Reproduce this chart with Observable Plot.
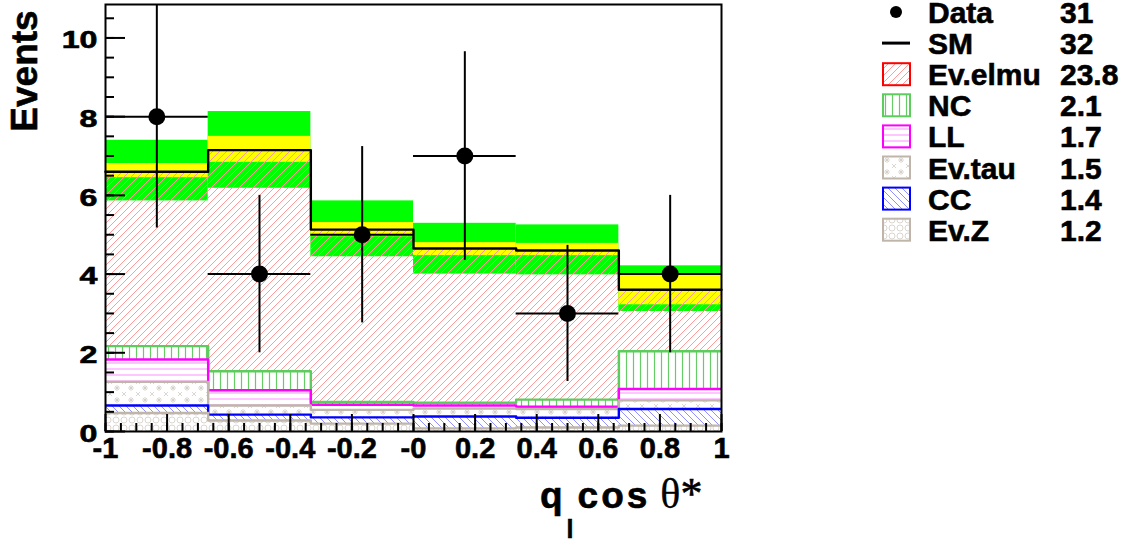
<!DOCTYPE html>
<html><head><meta charset="utf-8">
<script src="https://cdn.jsdelivr.net/npm/d3@7"></script>
<script src="https://cdn.jsdelivr.net/npm/@observablehq/plot@0.6"></script>
<style>body{margin:0;background:#fff} svg text.heavy, svg g[aria-label$="tick label"] text{stroke:#000;stroke-width:0.6px}</style>
</head><body><div id="chart"></div>
<script>
// ---- data ----
const binEdges = [-1, -2/3, -1/3, 0, 1/3, 2/3, 1];
const dataCounts = [8, 4, 5, 7, 3, 4];
const dataErrors = [2.83, 2.0, 2.24, 2.65, 1.73, 2.0];
const smTotal = [6.60, 7.15, 5.13, 4.65, 4.60, 3.60];
const bandInnerLo = [6.45, 6.84, 4.95, 4.47, 4.47, 3.22];
const bandInnerHi = [6.81, 7.50, 5.31, 4.80, 4.78, 3.98];
const bandOuterLo = [5.86, 6.18, 4.44, 4.00, 3.98, 3.05];
const bandOuterHi = [7.40, 8.13, 5.86, 5.29, 5.25, 4.21];
// stacked components (bottom to top)
const evZ    = [0.47, 0.28, 0.20, 0.08, 0.10, 0.15];
const cc     = [0.19, 0.15, 0.16, 0.30, 0.25, 0.42];
const evTau  = [0.60, 0.23, 0.19, 0.20, 0.22, 0.22];
const ll     = [0.57, 0.39, 0.13, 0.08, 0.06, 0.29];
const nc     = [0.34, 0.48, 0.07, 0.07, 0.18, 0.96];
const evElmu = [4.43, 5.62, 4.38, 3.92, 3.79, 1.56];
const legendLabels = ["Data", "SM", "Ev.elmu", "NC", "LL", "Ev.tau", "CC", "Ev.Z"];
const legendValues = ["31", "32", "23.8", "2.1", "1.7", "1.5", "1.4", "1.2"];
const xTickValues = [-1, -0.8, -0.6, -0.4, -0.2, 0, 0.2, 0.4, 0.6, 0.8, 1];
const xTickLabels = ["-1", "-0.8", "-0.6", "-0.4", "-0.2", "-0", "0.2", "0.4", "0.6", "0.8", "1"];
const yTickValues = [0, 2, 4, 6, 8, 10];
const yTickLabels = ["0", "2", "4", "6", "8", "10"];
const yMax = 10.85;

// ---- styling ----
const W = 1127, H = 545, ML = 105, MR = 406, MT = 4, MB = 114;
const FW = W - ML - MR, FH = H - MT - MB;
const FONT = "'Liberation Sans', Arial, Helvetica, sans-serif";
const components = [
  {name: "Ev.Z",    values: evZ,    line: "#bfb5ab", pat: "pat-z"},
  {name: "CC",      values: cc,     line: "#0000ff", pat: "pat-cc"},
  {name: "Ev.tau",  values: evTau,  line: "#bfb5ab", pat: "pat-tau"},
  {name: "LL",      values: ll,     line: "#ff00ff", pat: "pat-ll"},
  {name: "NC",      values: nc,     line: "#5ccc5c", pat: "pat-nc"},
  {name: "Ev.elmu", values: evElmu, line: "#ff0000", pat: "pat-elmu"}
];

// ---- tables ----
const bins = dataCounts.map((v, i) => ({
  x1: binEdges[i], x2: binEdges[i + 1], xc: (binEdges[i] + binEdges[i + 1]) / 2,
  n: v, err: dataErrors[i], sm: smTotal[i],
  inLo: bandInnerLo[i], inHi: bandInnerHi[i], outLo: bandOuterLo[i], outHi: bandOuterHi[i]
}));
const cum = new Array(bins.length).fill(0);
const stackRows = components.map(c => {
  const rows = c.values.map((v, i) => {
    const r = {name: c.name, x1: binEdges[i], x2: binEdges[i + 1], y1: cum[i], y2: cum[i] + v};
    cum[i] += v;
    return r;
  });
  return {c, rows};
});
const stepPoints = (rows, key) => rows.flatMap(r => [{x: r.x1, y: r[key]}, {x: r.x2, y: r[key]}]);

const xMinor = d3.range(-1, 1.0001, 0.05);
const yMinor = d3.range(0, yMax, 0.5);

const marks = [
  Plot.rect(bins, {x1: "x1", x2: "x2", y1: "outLo", y2: "outHi", fill: "#00ff00"}),
  Plot.rect(bins, {x1: "x1", x2: "x2", y1: "inLo", y2: "inHi", fill: "#ffff00"}),
  ...stackRows.map(({c, rows}) => Plot.rect(rows, {x1: "x1", x2: "x2", y1: "y1", y2: "y2", fill: `url(#${c.pat})`})),
  ...stackRows.slice(0, 5).reverse().map(({c, rows}) =>
    Plot.line(stepPoints(rows, "y2"), {x: "x", y: "y", stroke: c.line, strokeWidth: 2.4, clip: true})),
  Plot.line(stepPoints(bins, "sm"), {x: "x", y: "y", stroke: "black", strokeWidth: 2.4}),
  // ticks inside frame
  Plot.tickY(yMinor, {y: d => d, insetRight: FW - 9, stroke: "black", strokeWidth: 2}),
  Plot.tickY(yTickValues, {y: d => d, insetRight: FW - 20, stroke: "black", strokeWidth: 2}),
  Plot.tickX(xMinor, {x: d => d, insetTop: FH - 8, stroke: "black", strokeWidth: 2}),
  Plot.tickX(xTickValues, {x: d => d, insetTop: FH - 17, stroke: "black", strokeWidth: 2}),
  // data
  Plot.ruleX(bins, {x: "xc", y1: d => d.n - d.err, y2: d => d.n + d.err, stroke: "black", strokeWidth: 2, clip: true}),
  Plot.ruleY(bins, {y: "n", x1: "x1", x2: "x2", stroke: "black", strokeWidth: 2}),
  Plot.dot(bins, {x: "xc", y: "n", r: 8.5, fill: "black", stroke: "none"}),
  Plot.frame({stroke: "black", strokeWidth: 2}),
  Plot.axisX(xTickValues, {tickSize: 0, tickPadding: 6, fontSize: 29, fontWeight: "bold",
    tickFormat: d => xTickLabels[xTickValues.indexOf(d)], label: null}),
  Plot.axisY(yTickValues, {tickSize: 0, tickPadding: 8, fontSize: 23, fontWeight: "bold", dy: 3,
    tickFormat: d => yTickLabels[yTickValues.indexOf(d)], label: null})
];

const svg = Plot.plot({
  width: W, height: H,
  marginLeft: ML, marginRight: MR, marginTop: MT, marginBottom: MB,
  x: {domain: [-1, 1]},
  y: {domain: [0, yMax]},
  style: {fontFamily: FONT, background: "white", color: "black"},
  marks
});

const s = d3.select(svg);
// patterns
const defs = s.insert("defs", ":first-child");
function pattern(id, w, h, draw, bg = "white") {
  const p = defs.append("pattern").attr("id", id).attr("patternUnits", "userSpaceOnUse")
    .attr("width", w).attr("height", h);
  if (bg) p.append("rect").attr("width", w).attr("height", h).attr("fill", bg);
  draw(p);
}
pattern("pat-elmu", 7, 7, p => p.append("path").attr("d", "M0,7L7,0M-1,1L1,-1M6,8L8,6")
  .attr("stroke", "#ff9a9a").attr("stroke-width", 1).attr("fill", "none"), null);
pattern("pat-nc", 7, 10, p => p.append("path").attr("d", "M3.5,0V10")
  .attr("stroke", "#66cc66").attr("stroke-width", 1.2));
pattern("pat-ll", 10, 6, p => p.append("path").attr("d", "M0,3H10")
  .attr("stroke", "#ff90ff").attr("stroke-width", 1));
pattern("pat-cc", 7, 7, p => p.append("path").attr("d", "M0,0L7,7M-1,6L1,8M6,-1L8,1")
  .attr("stroke", "#9090ff").attr("stroke-width", 1).attr("fill", "none"));
pattern("pat-tau", 14, 12, p => p.append("path")
  .attr("d", "M3,2L7,6M7,2L3,6M5,1V7M2,4H8M10,8L14,12M14,8L10,12")
  .attr("stroke", "#d2cbc4").attr("stroke-width", 0.8).attr("fill", "none"));
pattern("pat-z", 8, 8, p => p.append("circle").attr("cx", 4).attr("cy", 4).attr("r", 3)
  .attr("stroke", "#d2cbc4").attr("stroke-width", 0.8).attr("fill", "none"));

// stretch y tick labels horizontally like the reference
s.selectAll('g[aria-label="y-axis tick label"] text').attr("transform", function() {
  return (this.getAttribute("transform") || "") + " scale(1.4,1)";
});

// axis titles
s.append("text").attr("class", "heavy").attr("transform", "translate(37,71) rotate(-90)").attr("text-anchor", "middle")
  .attr("font-family", FONT).attr("font-weight", "bold").attr("font-size", 37).text("Events");
const xt = s.append("text").attr("class", "heavy").attr("x", 540).attr("y", 508).attr("text-anchor", "start")
  .attr("font-family", FONT).attr("font-weight", "bold").attr("font-size", 37);
xt.append("tspan").text("q");
xt.append("tspan").attr("font-size", 25).attr("dy", 30).attr("dx", 4).text("l");
xt.append("tspan").attr("dy", -30).attr("dx", 4).attr("letter-spacing", 3).text("cos");
xt.append("tspan").attr("dx", 10).attr("font-size", 42).attr("stroke-width", 0.3)
  .attr("font-family", "'Liberation Serif', serif").attr("font-weight", "normal").text("θ");
xt.append("tspan").attr("font-size", 44).attr("font-weight", "normal").attr("stroke-width", 0.6)
  .attr("font-family", "'Liberation Serif', serif").text("*");

// legend
const leg = s.append("g").attr("font-family", FONT).attr("font-weight", "bold").attr("font-size", 30)
  .attr("text-anchor", "start");
const legendStyle = [
  {type: "dot"}, {type: "line"},
  ...components.slice().reverse().map(c => ({type: "box", pat: c.pat, line: c.line}))
];
legendLabels.forEach((lab, i) => {
  const cy = 12 + 31.1 * i;
  const st = legendStyle[i];
  if (st.type === "dot") leg.append("circle").attr("cx", 896).attr("cy", cy).attr("r", 6).attr("fill", "black");
  else if (st.type === "line") leg.append("line").attr("x1", 882).attr("x2", 910).attr("y1", cy).attr("y2", cy)
    .attr("stroke", "black").attr("stroke-width", 3);
  else {
    leg.append("rect").attr("x", 883).attr("y", cy - 11).attr("width", 27).attr("height", 22)
      .attr("fill", `url(#${st.pat})`).attr("stroke", st.line).attr("stroke-width", 2);
  }
  leg.append("text").attr("class", "heavy").attr("x", 928).attr("y", cy + 11).text(lab);
  leg.append("text").attr("class", "heavy").attr("x", 1060).attr("y", cy + 11).text(legendValues[i]);
});

document.getElementById("chart").appendChild(svg);
</script>
</body></html>
